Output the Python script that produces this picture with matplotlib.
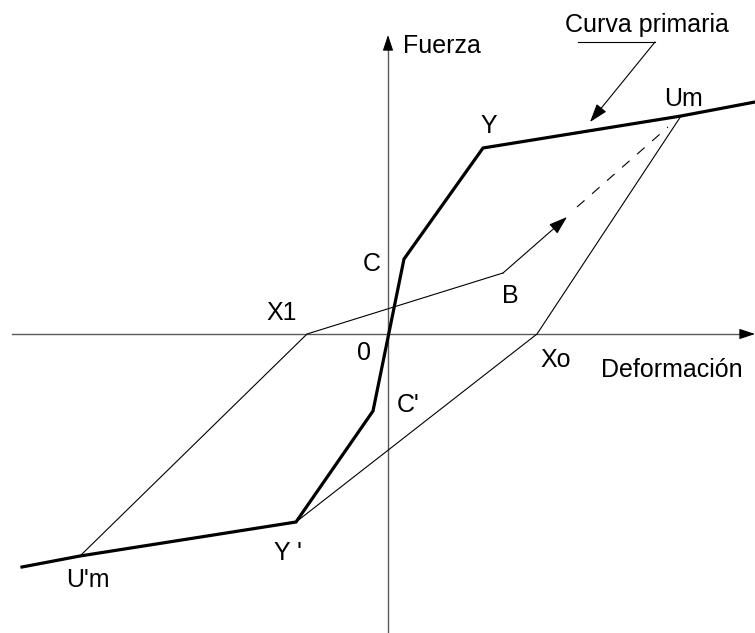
import matplotlib.pyplot as plt

plt.rcParams['font.family'] = ['Liberation Sans', 'DejaVu Sans']

# ---- Data (deformacion, fuerza) in drawing units ----
primary_x = [-366, -308, -92, -15, 16, 95, 293, 367]
primary_y = [-233, -222, -188, -77, 75, 186, 218, 232]

unload_x = [293, 149, -92]          # Um -> Xo -> Y'
unload_y = [218, 0, -188]

reload_x = [-308, -81, 115]         # U'm -> X1 -> B
reload_y = [-222, 0, 61]

arrow_tip = (179, 117)              # B -> towards Um
dash_x = [189, 280]
dash_y = [127, 207]

labels = ["Um", "Y", "C", "X1", "B", "0", "Xo", "C'", "Y '", "U'm"]
label_x = [295, 101, -16, -106, 122, -24, 168, 20, -100, -300]
label_y = [228, 201, 63, 14, 31, -26, -33, -78, -226, -253]

FS = 18
HEAD = "-|>,head_length=0.6,head_width=0.2"

fig = plt.figure(figsize=(7.55, 6.33), dpi=100)
ax = fig.add_axes([0, 0, 1, 1])
ax.set_xlim(-388, 367)
ax.set_ylim(-299, 334)
ax.axis("off")

# axes: grey lines, black arrow heads
axis_col = "#5a5a5a"
ax.plot([-376, 360], [0, 0], color=axis_col, lw=1.0)
ax.plot([0, 0], [-299, 292], color=axis_col, lw=1.0)
ax.annotate("", xy=(367, 0), xytext=(355, 0),
            arrowprops=dict(arrowstyle=HEAD, mutation_scale=16, color="black",
                            lw=0.8, shrinkA=0, shrinkB=0))
ax.annotate("", xy=(0, 299), xytext=(0, 287),
            arrowprops=dict(arrowstyle=HEAD, mutation_scale=16, color="black",
                            lw=0.8, shrinkA=0, shrinkB=0))

# thin loops
ax.plot(unload_x, unload_y, color="black", lw=0.8)
ax.plot(reload_x, reload_y, color="black", lw=0.8)
ax.annotate("", xy=arrow_tip, xytext=(reload_x[-1], reload_y[-1]),
            arrowprops=dict(arrowstyle=HEAD, mutation_scale=19, color="black",
                            lw=0.8, shrinkA=0, shrinkB=0))
ax.plot(dash_x, dash_y, color="black", lw=0.8, dashes=(9, 9))

# primary curve
ax.plot(primary_x, primary_y, color="black", lw=2.3, solid_joinstyle="miter")

# "Curva primaria" callout
ax.plot([190, 267], [292, 292], color="black", lw=0.8)
ax.annotate("", xy=(202, 212), xytext=(267, 292),
            arrowprops=dict(arrowstyle=HEAD, mutation_scale=19, color="black",
                            lw=0.8, shrinkA=0, shrinkB=0))
ax.text(259, 302, "Curva primaria", fontsize=FS, ha="center", va="baseline")

# axis titles
ax.text(15, 281, "Fuerza", fontsize=FS, ha="left", va="baseline")
ax.text(284, -43, "Deformación", fontsize=FS, ha="center", va="baseline")

for s, x, y in zip(labels, label_x, label_y):
    ax.text(x, y, s, fontsize=FS, ha="center", va="baseline")

fig.savefig("out.png", dpi=100)
